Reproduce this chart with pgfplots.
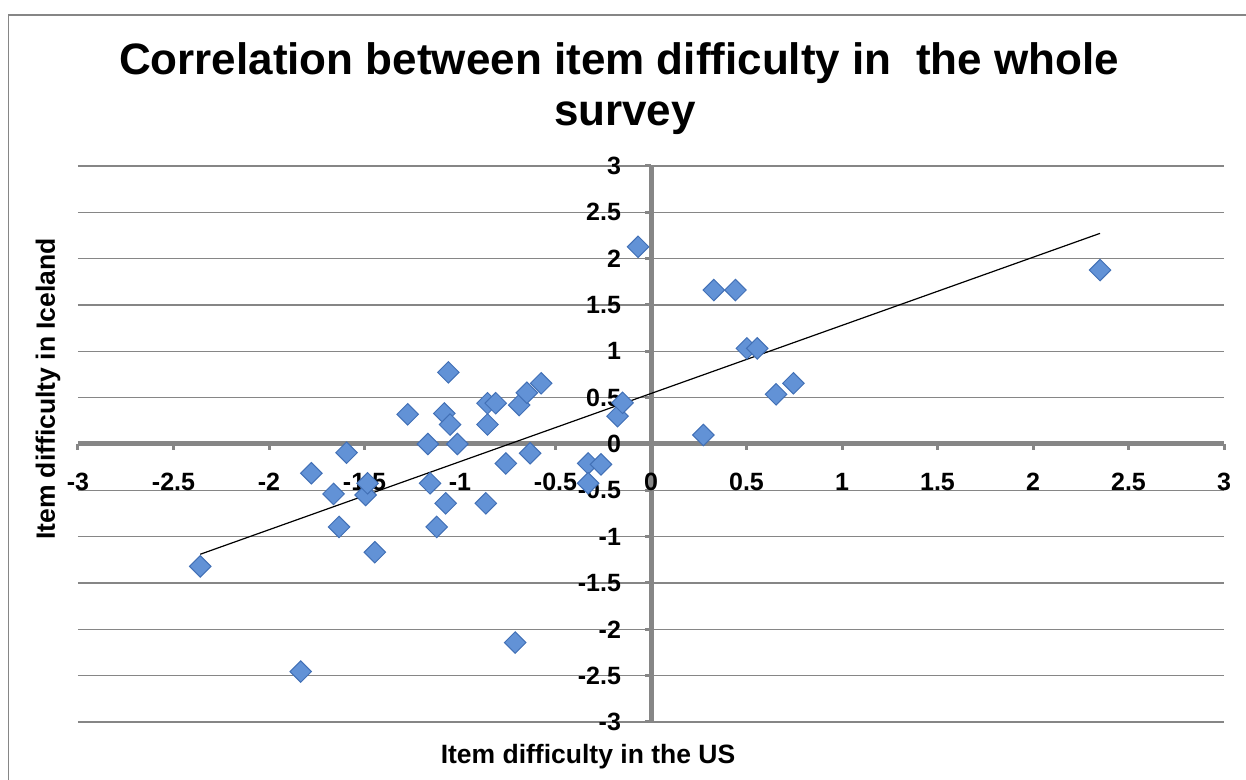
\documentclass[border=0pt]{standalone}
\usepackage{pgfplots}
\pgfplotsset{compat=1.18}
\usepackage{fontspec}
\setmainfont{Liberation Sans}
\definecolor{gridgray}{RGB}{134,134,134}
\definecolor{markfill}{RGB}{98,146,214}
\definecolor{markdraw}{RGB}{66,112,182}
\begin{document}
\begin{tikzpicture}
\path[use as bounding box] (-39pt,-29pt) rectangle (584pt,361pt);
\begin{axis}[
  at={(0pt,0pt)}, anchor=south west,
  scale only axis, width=573pt, height=278pt,
  xmin=-3, xmax=3, ymin=-3, ymax=3,
  axis lines=middle,
  hide obscured x ticks=false, hide obscured y ticks=false,
  axis line style={-, gridgray, line width=2.5pt},
  xtick={-3,-2.5,-2,-1.5,-1,-0.5,0,0.5,1,1.5,2,2.5,3},
  xticklabels={-3,-2.5,-2,-1.5,-1,-0.5,0,0.5,1,1.5,2,2.5,3},
  ytick={-3,-2.5,-2,-1.5,-1,-0.5,0,0.5,1,1.5,2,2.5,3},
  yticklabels={-3,-2.5,-2,-1.5,-1,-0.5,0,0.5,1,1.5,2,2.5,3},
  tick align=outside,
  major tick length=3pt,
  tick style={gridgray, line width=1.5pt},
  ymajorgrids,
  grid style={gridgray, line width=0.65pt},
  ticklabel style={font=\fontsize{12.5}{15}\selectfont\bfseries},
  xticklabel style={anchor=north, yshift=-8pt},
  yticklabel style={anchor=east, xshift=-8.5pt},
  clip=false,
]
\addplot[only marks, mark=square*, mark size=3.8pt,
  mark options={rotate=45, fill=markfill, draw=markdraw, line width=0.5pt}]
  coordinates {
  (-2.36,-1.32) (-1.834,-2.456) (-1.778,-0.316) (-1.662,-0.539) (-1.633,-0.895)
  (-1.594,-0.094) (-1.494,-0.55) (-1.484,-0.424) (-1.446,-1.168) (-1.274,0.32)
  (-1.168,0) (-1.157,-0.424) (-1.122,-0.895) (-1.082,0.33) (-1.075,-0.64)
  (-1.061,0.773) (-1.052,0.21) (-1.014,0) (-0.865,-0.64) (-0.856,0.44)
  (-0.856,0.21) (-0.813,0.44) (-0.76,-0.21) (-0.711,-2.143) (-0.69,0.42)
  (-0.65,0.553) (-0.633,-0.10) (-0.575,0.655) (-0.329,-0.21) (-0.329,-0.424)
  (-0.262,-0.22) (-0.175,0.30) (-0.149,0.445) (-0.068,2.128) (0.274,0.097)
  (0.329,1.661) (0.442,1.661) (0.502,1.032) (0.556,1.032) (0.655,0.536)
  (0.746,0.655) (2.351,1.877)
  };
\addplot[black, line width=0.6pt, no marks] coordinates {(-2.36,-1.19) (2.351,2.273)};
\end{axis}
\draw[gridgray, line width=0.7pt] (-34.75pt,-60pt) -- (-34.75pt,353.5pt) -- (640pt,353.5pt);
\node[anchor=base, font=\fontsize{22}{26}\selectfont\bfseries] at (270.5pt,323.5pt) {Correlation between item difficulty in\ \ the whole};
\node[anchor=base, font=\fontsize{22}{26}\selectfont\bfseries] at (273.5pt,298pt) {survey};
\node[anchor=base, font=\fontsize{13.25}{16}\selectfont\bfseries] at (255pt,-21pt) {Item difficulty in the US};
\node[anchor=base, rotate=90, font=\fontsize{13.25}{16}\selectfont\bfseries] at (-11.5pt,166.5pt) {Item difficulty in Iceland};
\end{tikzpicture}
\end{document}
